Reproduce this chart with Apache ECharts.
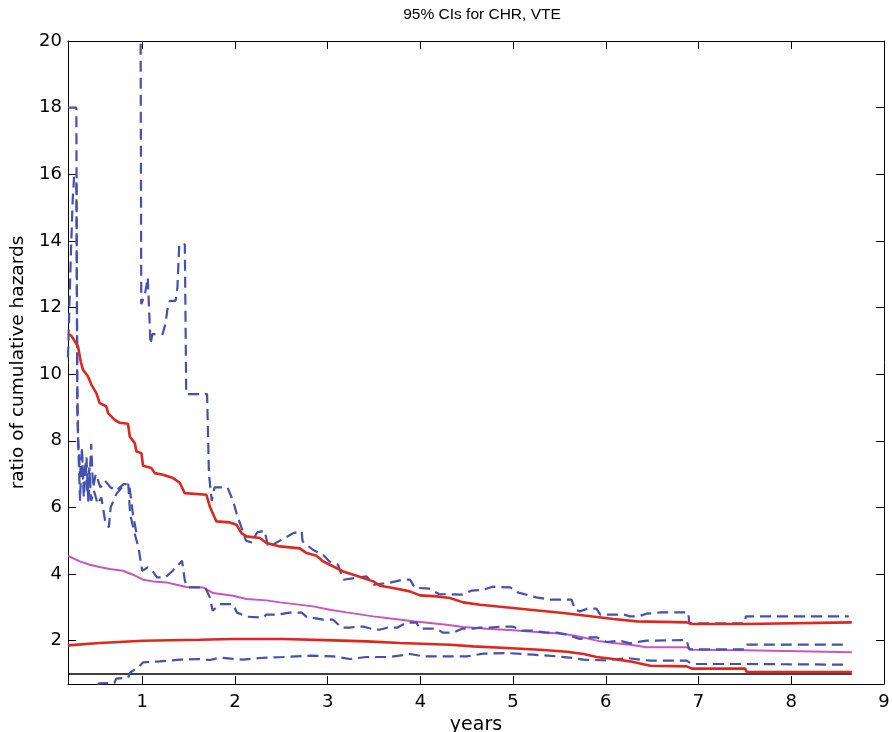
<!DOCTYPE html>
<html>
<head>
<meta charset="utf-8">
<script src="https://cdn.jsdelivr.net/npm/echarts@6/dist/echarts.min.js"></script>
<style>
html,body{margin:0;padding:0;background:#fff;}
#chart{width:892px;height:732px;}
</style>
</head>
<body>
<div id="chart"></div>
<script>
// ---- data ----
const titleText = '95% CIs for CHR, VTE';
const xName = 'years';
const yName = 'ratio of cumulative hazards';
const xTicks = [1, 2, 3, 4, 5, 6, 7, 8, 9];
const yTicks = [2, 4, 6, 8, 10, 12, 14, 16, 18, 20];

const redUpX = [0.2,0.237,0.308,0.337,0.362,0.416,0.453,0.506,0.542,0.614,0.632,0.704,0.758,0.847,0.866,0.92,0.938,0.992,1.009,1.10,1.136,1.225,1.333,1.405,1.459,1.693,1.729,1.80,1.945,2.017,2.071,2.125,2.269,2.341,2.485,2.70,2.773,2.88,2.952,3.024,3.168,3.312,3.491,3.564,3.707,3.887,3.995,4.175,4.319,4.462,4.643,5.002,5.182,5.541,5.722,5.902,6.081,6.334,6.873,6.927,7.502,7.52,8.653];
const redUpY = [11.21,11.15,10.83,10.38,10.13,9.93,9.68,9.43,9.13,9.03,8.83,8.63,8.54,8.51,8.13,7.93,7.68,7.63,7.25,7.18,7.03,6.98,6.88,6.74,6.43,6.38,6.03,5.58,5.55,5.48,5.23,5.13,5.08,4.93,4.83,4.77,4.63,4.55,4.38,4.28,4.08,3.95,3.78,3.65,3.58,3.48,3.36,3.33,3.28,3.15,3.08,2.98,2.93,2.83,2.77,2.71,2.65,2.58,2.55,2.50,2.50,2.55,2.55];

const magentaX = [0.2,0.326,0.434,0.542,0.65,0.793,0.901,1.009,1.117,1.262,1.37,1.478,1.657,1.765,1.98,2.125,2.341,2.485,2.844,3.024,3.204,3.491,3.636,3.923,4.103,4.283,4.462,4.715,5.002,5.29,5.541,5.722,5.938,6.081,6.26,6.441,6.873,6.927,7.502,7.52,8.653];
const magentaY = [4.55,4.38,4.28,4.21,4.15,4.10,3.98,3.83,3.78,3.75,3.68,3.61,3.60,3.43,3.35,3.25,3.21,3.15,3.03,2.93,2.85,2.73,2.68,2.58,2.53,2.48,2.41,2.36,2.31,2.25,2.21,2.12,1.98,1.93,1.88,1.80,1.80,1.73,1.71,1.65,1.65];

const redLowX = [0.2,0.542,1.009,1.62,1.98,2.52,3.06,3.42,3.78,4.32,4.57,4.93,5.29,5.58,5.76,5.90,6.08,6.26,6.48,6.873,6.927,7.502,7.52,8.653];
const redLowY = [1.86,1.93,2.00,2.03,2.05,2.05,2.01,1.98,1.93,1.88,1.83,1.78,1.73,1.67,1.60,1.51,1.45,1.38,1.25,1.23,1.16,1.16,1.06,1.06];

const blueLowX = [0.2,0.52,0.53,0.70,0.72,0.85,0.866,0.974,1.01,1.19,1.405,1.62,1.73,1.84,2.09,2.27,2.52,2.81,3.06,3.24,3.42,3.67,3.89,4.03,4.32,4.50,4.68,4.93,5.22,5.47,5.65,5.76,6.01,6.23,6.37,6.48,6.87,6.93,7.50,7.52,8.62];
const blueLowY = [0.55,0.55,0.72,0.73,0.86,0.89,1.03,1.25,1.35,1.38,1.43,1.45,1.42,1.49,1.43,1.48,1.51,1.55,1.53,1.45,1.51,1.51,1.60,1.53,1.53,1.53,1.61,1.63,1.58,1.53,1.48,1.43,1.41,1.48,1.43,1.40,1.40,1.30,1.30,1.28,1.28];

const blueMidX = [0.2,0.215,0.23,0.25,0.265,0.29,0.30,0.31,0.33,0.35,0.37,0.39,0.41,0.43,0.45,0.48,0.52,0.56,0.60,0.64,0.66,0.72,0.78,0.85,0.87,0.92,0.96,1.0,1.06,1.11,1.16,1.25,1.33,1.43,1.46,1.49,1.68,1.73,1.76,1.84,1.98,2.02,2.13,2.3,2.34,2.45,2.59,2.72,2.77,2.95,3.06,3.15,3.24,3.31,3.39,3.51,3.56,3.64,3.75,3.85,3.96,3.99,4.18,4.24,4.35,4.45,4.57,4.64,4.75,4.86,5.0,5.1,5.21,5.36,5.47,5.58,5.72,5.83,5.9,6.01,6.15,6.26,6.37,6.44,6.87,6.9,7.5,7.52,8.62];
const blueMidY = [10.5,12.0,13.5,15.2,15.9,15.9,9.8,8.0,7.0,7.6,6.6,7.4,6.4,7.2,6.2,6.5,6.1,6.3,5.6,5.4,6.0,6.4,6.6,6.7,5.8,5.2,4.8,4.1,4.2,4.1,3.9,3.9,4.1,4.4,3.8,3.6,3.6,3.3,2.9,3.1,3.1,2.85,2.72,2.69,2.78,2.78,2.84,2.84,2.72,2.63,2.63,2.39,2.39,2.42,2.42,2.33,2.33,2.39,2.39,2.54,2.54,2.36,2.36,2.24,2.24,2.36,2.36,2.39,2.39,2.42,2.42,2.30,2.30,2.24,2.24,2.18,2.05,2.10,2.10,1.96,2.0,1.92,1.97,2.0,2.02,1.74,1.74,1.88,1.88];

const blueTopX = [0.2,0.29,0.30,0.31,0.33,0.35,0.37,0.40,0.42,0.45,0.47,0.50,0.55,0.60,0.66,0.72,0.80,0.86,0.90,0.94,0.95,0.98,0.99,1.0,1.03,1.06,1.09,1.11,1.22,1.25,1.28,1.30,1.36,1.38,1.40,1.46,1.475,1.70,1.72,1.75,1.78,1.92,1.98,2.02,2.07,2.12,2.18,2.24,2.32,2.36,2.45,2.55,2.63,2.72,2.73,2.84,2.95,3.02,3.11,3.17,3.31,3.42,3.5,3.67,3.81,3.89,3.94,4.1,4.2,4.45,4.55,4.68,4.78,4.97,5.05,5.25,5.4,5.63,5.67,5.72,5.8,5.9,5.94,6.2,6.26,6.35,6.44,6.6,6.89,6.9,7.5,7.51,8.62];
const blueTopY = [18,18,9.0,7.9,6.2,7.8,6.3,7.5,6.1,7.9,6.6,7.0,6.6,6.8,6.6,6.5,6.7,6.7,5.8,5.2,null,24,12.1,12.1,12.4,12.9,10.9,11.2,11.2,11.5,12.1,12.2,12.2,12.6,13.9,13.9,9.4,9.4,7.0,6.2,6.6,6.6,6.2,5.8,5.4,5.0,4.95,5.25,5.3,4.8,4.95,5.1,5.23,5.28,4.98,4.73,4.58,4.38,4.28,3.83,3.89,3.93,3.68,3.74,3.83,3.83,3.59,3.56,3.40,3.38,3.50,3.53,3.62,3.60,3.45,3.30,3.23,3.23,2.93,2.88,2.96,2.96,2.78,2.78,2.73,2.73,2.81,2.85,2.85,2.52,2.52,2.73,2.73];

const refX = [0.2, 8.653];
const refY = [1, 1];

// ---- build ----
function zip(xs, ys) {
  return xs.map((x, i) => [x, ys[i] == null ? '-' : ys[i]]);
}

const FONT = 'DejaVu Sans';
const RED = '#e1261d';
const MAG = '#cb55bf';
const BLUE = '#4251b3';
const DASH = [11, 6];

const chart = echarts.init(document.getElementById('chart'), null, {renderer: 'canvas'});

const axisCommon = {
  type: 'value',
  axisLine: {show: true, onZero: false, lineStyle: {color: '#000', width: 1}},
  axisTick: {show: true, inside: true, length: 8, lineStyle: {color: '#000', width: 1}},
  splitLine: {show: false}
};

chart.setOption({
  animation: false,
  backgroundColor: '#fff',
  title: {
    text: titleText,
    left: 477,
    textAlign: 'center',
    top: 2,
    textStyle: {fontFamily: 'Liberation Sans', fontSize: 15.5, fontWeight: 'normal', color: '#000'}
  },
  grid: {left: 68, right: 8, top: 41, bottom: 48, containLabel: false, outerBoundsMode: 'none'},
  xAxis: [
    Object.assign({}, axisCommon, {
      position: 'bottom', min: 0.2, max: 9,
      axisTick: Object.assign({}, axisCommon.axisTick, {customValues: xTicks}),
      axisLabel: {customValues: xTicks, fontFamily: FONT, fontSize: 18, color: '#000', margin: 9},
      name: xName, nameLocation: 'middle', nameGap: 30,
      nameTextStyle: {fontFamily: FONT, fontSize: 19, color: '#000'}
    }),
    Object.assign({}, axisCommon, {
      position: 'top', min: 0.2, max: 9,
      axisTick: Object.assign({}, axisCommon.axisTick, {customValues: xTicks}),
      axisLabel: {show: false}
    })
  ],
  yAxis: [
    Object.assign({}, axisCommon, {
      position: 'left', min: 0.7, max: 20,
      axisTick: Object.assign({}, axisCommon.axisTick, {customValues: yTicks}),
      axisLabel: {customValues: yTicks, fontFamily: FONT, fontSize: 18, color: '#000', margin: 6},
      name: yName, nameLocation: 'middle', nameGap: 40,
      nameTextStyle: {fontFamily: FONT, fontSize: 18.5, color: '#000'}
    }),
    Object.assign({}, axisCommon, {
      position: 'right', min: 0.7, max: 20,
      axisTick: Object.assign({}, axisCommon.axisTick, {customValues: yTicks}),
      axisLabel: {show: false}
    })
  ],
  series: [
    {type: 'line', name: 'ref', data: zip(refX, refY), symbol: 'none', lineStyle: {color: '#000', width: 1.3}, z: 1},
    {type: 'line', name: 'estimate', data: zip(magentaX, magentaY), symbol: 'none', lineStyle: {color: MAG, width: 2}, z: 2},
    {type: 'line', name: 'blueLow', data: zip(blueLowX, blueLowY), symbol: 'none', lineStyle: {color: BLUE, width: 2.2, type: DASH}, z: 3},
    {type: 'line', name: 'blueMid', data: zip(blueMidX, blueMidY), symbol: 'none', lineStyle: {color: BLUE, width: 2.2, type: DASH}, z: 3},
    {type: 'line', name: 'blueTop', data: zip(blueTopX, blueTopY), symbol: 'none', connectNulls: false, lineStyle: {color: BLUE, width: 2.2, type: DASH}, z: 3},
    {type: 'line', name: 'redLow', data: zip(redLowX, redLowY), symbol: 'none', lineStyle: {color: RED, width: 2.6}, z: 4},
    {type: 'line', name: 'redUp', data: zip(redUpX, redUpY), symbol: 'none', lineStyle: {color: RED, width: 2.6}, z: 4}
  ]
});
</script>
</body>
</html>
